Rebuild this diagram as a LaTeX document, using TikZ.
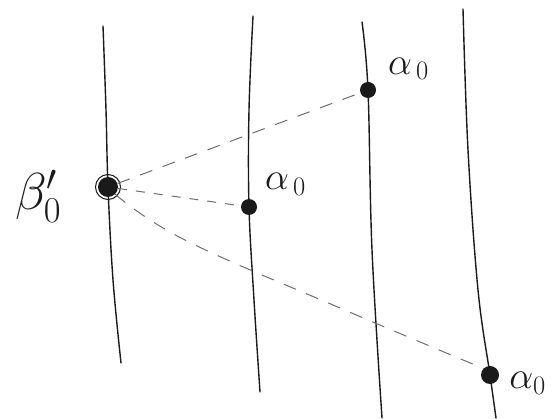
\RequirePackage{fix-cm}
\documentclass[tikz,border=0pt]{standalone}
\usepackage{amsmath,amssymb}
\usetikzlibrary{positioning}
\definecolor{SketchInk}{HTML}{1A1A1A}
\definecolor{SketchDash}{HTML}{6E6E6E}

\begin{document}
\begin{tikzpicture}[x=1pt,y=-1pt,
    wire/.style={line width=1.4pt,draw=SketchInk,line cap=round},
    site/.style={circle,fill=SketchInk,inner sep=0pt,minimum size=16pt},
    link/.style={line width=1pt,draw=SketchDash,dash pattern=on 13pt off 11pt},
    lab/.style={inner sep=0pt,text=SketchInk,font=\fontsize{38}{40}\selectfont}
  ]
    \useasboundingbox (0,0) rectangle (556,419);
    % sites
    \node[site,minimum size=20pt] (b0) at (108,187) {};
    \draw[SketchInk,line width=1pt] (b0) circle (12.5pt);
    \node[site] (amid) at (249,207) {};
    \node[site] (atop) at (368,90) {};
    \node[site,minimum size=18pt] (abot) at (490,375) {};
    % wire ends
    \coordinate (w1t) at (103,26);  \coordinate (w1b) at (121,363);
    \coordinate (w2t) at (253,16);  \coordinate (w2b) at (260,392);
    \coordinate (w3t) at (362,22);  \coordinate (w3b) at (382,418);
    \coordinate (w4t) at (463,9);   \coordinate (w4b) at (496,418);
    \draw[wire] plot[smooth,tension=0.6] coordinates {(w1t) (106,110) (b0.center) (113,280) (w1b)};
    \draw[wire] plot[smooth,tension=0.6] coordinates {(w2t) (249,110) (amid.center) (254,300) (w2b)};
    \draw[wire] plot[smooth,tension=0.6] coordinates {(w3t) (atop.center) (372,250) (w3b)};
    \draw[wire] plot[smooth,tension=0.6] coordinates {(w4t) (468,150) (478,290) (abot.center) (w4b)};
    % links
    \draw[link] (b0) -- (atop);
    \draw[link,dash pattern=on 9pt off 9pt] (b0) -- (amid);
    \draw[link] plot[smooth,tension=0.7] coordinates {(b0.south east) (185,240) (340,308) (abot.north west)};
    % labels
    \node[lab,font=\fontsize{52}{56}\selectfont] (lbeta) at (38,196) {$\beta'_0$};
    \node[lab,above right=6pt and 10pt of amid] (lamid) {$\alpha_{\,0}$};
    \node[lab,above right=4pt and 14pt of atop] (latop) {$\alpha_{\,0}$};
    \node[lab,right=10pt of abot,yshift=-8pt] (labot) {$\alpha_0$};
\end{tikzpicture}
\end{document}
